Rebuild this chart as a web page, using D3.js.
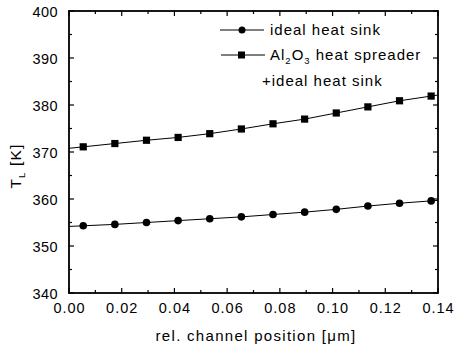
<!DOCTYPE html>
<html><head><meta charset="utf-8">
<script src="https://cdn.jsdelivr.net/npm/d3@7"></script>
<style>body{margin:0;background:#fff}svg{display:block}text{font-family:"Liberation Sans",Arial,sans-serif;fill:#000}</style>
</head><body>
<script>
const xPos = [0.0054,0.0174,0.0294,0.0414,0.0534,0.0654,0.0774,0.0894,0.1014,0.1134,0.1254,0.1374];
const idealSink = [354.3,354.6,355.0,355.4,355.8,356.2,356.7,357.2,357.8,358.5,359.1,359.6];
const al2o3 = [371.1,371.8,372.5,373.1,373.9,374.9,376.0,377.0,378.3,379.6,380.9,381.9];
const xTicks = [0,0.02,0.04,0.06,0.08,0.10,0.12,0.14];
const yTicks = [340,350,360,370,380,390,400];

const W=455,H=352;
const m={l:69,r:438,t:11,b:293};
const svg=d3.select("body").append("svg").attr("width",W).attr("height",H);
const x=d3.scaleLinear().domain([0,0.14]).range([m.l,m.r]);
const y=d3.scaleLinear().domain([340,400]).range([m.b,m.t]);

// ticks inward on all four sides
const g=svg.append("g").attr("stroke","#000");
const xMinor=d3.range(0,0.1401,0.01), yMinor=d3.range(340,400.1,5);
xMinor.forEach((v,i)=>{const L=(i%2==0)?5:3;
  g.append("line").attr("x1",x(v)).attr("x2",x(v)).attr("y1",m.b).attr("y2",m.b-L).attr("stroke-width",1.2);
  g.append("line").attr("x1",x(v)).attr("x2",x(v)).attr("y1",m.t).attr("y2",m.t+L).attr("stroke-width",1.2);});
yMinor.forEach((v,i)=>{const L=(i%2==0)?5:3;
  g.append("line").attr("y1",y(v)).attr("y2",y(v)).attr("x1",m.l).attr("x2",m.l+L).attr("stroke-width",1.2);
  g.append("line").attr("y1",y(v)).attr("y2",y(v)).attr("x1",m.r).attr("x2",m.r-L).attr("stroke-width",1.2);});
svg.append("rect").attr("x",m.l).attr("y",m.t).attr("width",m.r-m.l).attr("height",m.b-m.t)
  .attr("fill","none").attr("stroke","#000").attr("stroke-width",1.8);

// tick labels
svg.selectAll(".xl").data(xTicks).enter().append("text").attr("x",d=>x(d)+0.5).attr("y",313)
  .attr("text-anchor","middle").attr("font-size",14.5).attr("letter-spacing",1).text(d=>d.toFixed(2));
svg.selectAll(".yl").data(yTicks).enter().append("text").attr("x",58).attr("y",d=>y(d)+6)
  .attr("text-anchor","end").attr("font-size",14.5).attr("letter-spacing",0.4).text(d=>d);

// axis titles
svg.append("text").attr("x",256).attr("y",341).attr("text-anchor","middle").attr("font-size",15).attr("letter-spacing",1.3)
  .text("rel. channel position [\u03BCm]");
const yt=svg.append("text").attr("transform","translate(21,166) rotate(-90)").attr("text-anchor","middle").attr("font-size",15.5).attr("letter-spacing",1.2);
yt.append("tspan").text("T");
yt.append("tspan").attr("font-size",9.5).attr("dy",4).text("L");
yt.append("tspan").attr("dy",-4).text(" [K]");

// series lines (extended to the frame)
const fit=(xs,ys,xv)=>{const n=xs.length;const i=xv<xs[0]?0:n-2;return ys[i]+(ys[i+1]-ys[i])*(xv-xs[i])/(xs[i+1]-xs[i]);};
function series(vals,shape){
  const pts=[[0,fit(xPos,vals,0)]].concat(xPos.map((d,i)=>[d,vals[i]])).concat([[0.14,fit(xPos,vals,0.14)]]);
  svg.append("path").attr("d",d3.line().x(d=>x(d[0])).y(d=>y(d[1]))(pts)).attr("fill","none").attr("stroke","#000").attr("stroke-width",1);
  xPos.forEach((d,i)=>{
    if(shape==="c") svg.append("circle").attr("cx",x(d)).attr("cy",y(vals[i])).attr("r",3.8).attr("fill","#000");
    else svg.append("rect").attr("x",x(d)-3.6).attr("y",y(vals[i])-3.6).attr("width",7.2).attr("height",7.2).attr("fill","#000");
  });
}
series(idealSink,"c");
series(al2o3,"s");

// legend
const lg=svg.append("g");
lg.append("line").attr("x1",220).attr("x2",264).attr("y1",30).attr("y2",30).attr("stroke","#000");
lg.append("circle").attr("cx",242).attr("cy",30).attr("r",3.5).attr("fill","#000");
lg.append("text").attr("x",270).attr("y",35).attr("font-size",15).attr("letter-spacing",1).text("ideal heat sink");
lg.append("line").attr("x1",221).attr("x2",265).attr("y1",55).attr("y2",55).attr("stroke","#000");
lg.append("rect").attr("x",238).attr("y",51.5).attr("width",7).attr("height",7).attr("fill","#000");
const t2=lg.append("text").attr("x",270).attr("y",60).attr("font-size",15).attr("letter-spacing",1);
t2.append("tspan").text("Al");
t2.append("tspan").attr("font-size",9.5).attr("dy",4).text("2");
t2.append("tspan").attr("dy",-4).text("O");
t2.append("tspan").attr("font-size",9.5).attr("dy",4).text("3");
t2.append("tspan").attr("dy",-4).text(" heat spreader");
lg.append("text").attr("x",262).attr("y",85.5).attr("font-size",15).attr("letter-spacing",1).text("+ideal heat sink");
</script>
</body></html>
